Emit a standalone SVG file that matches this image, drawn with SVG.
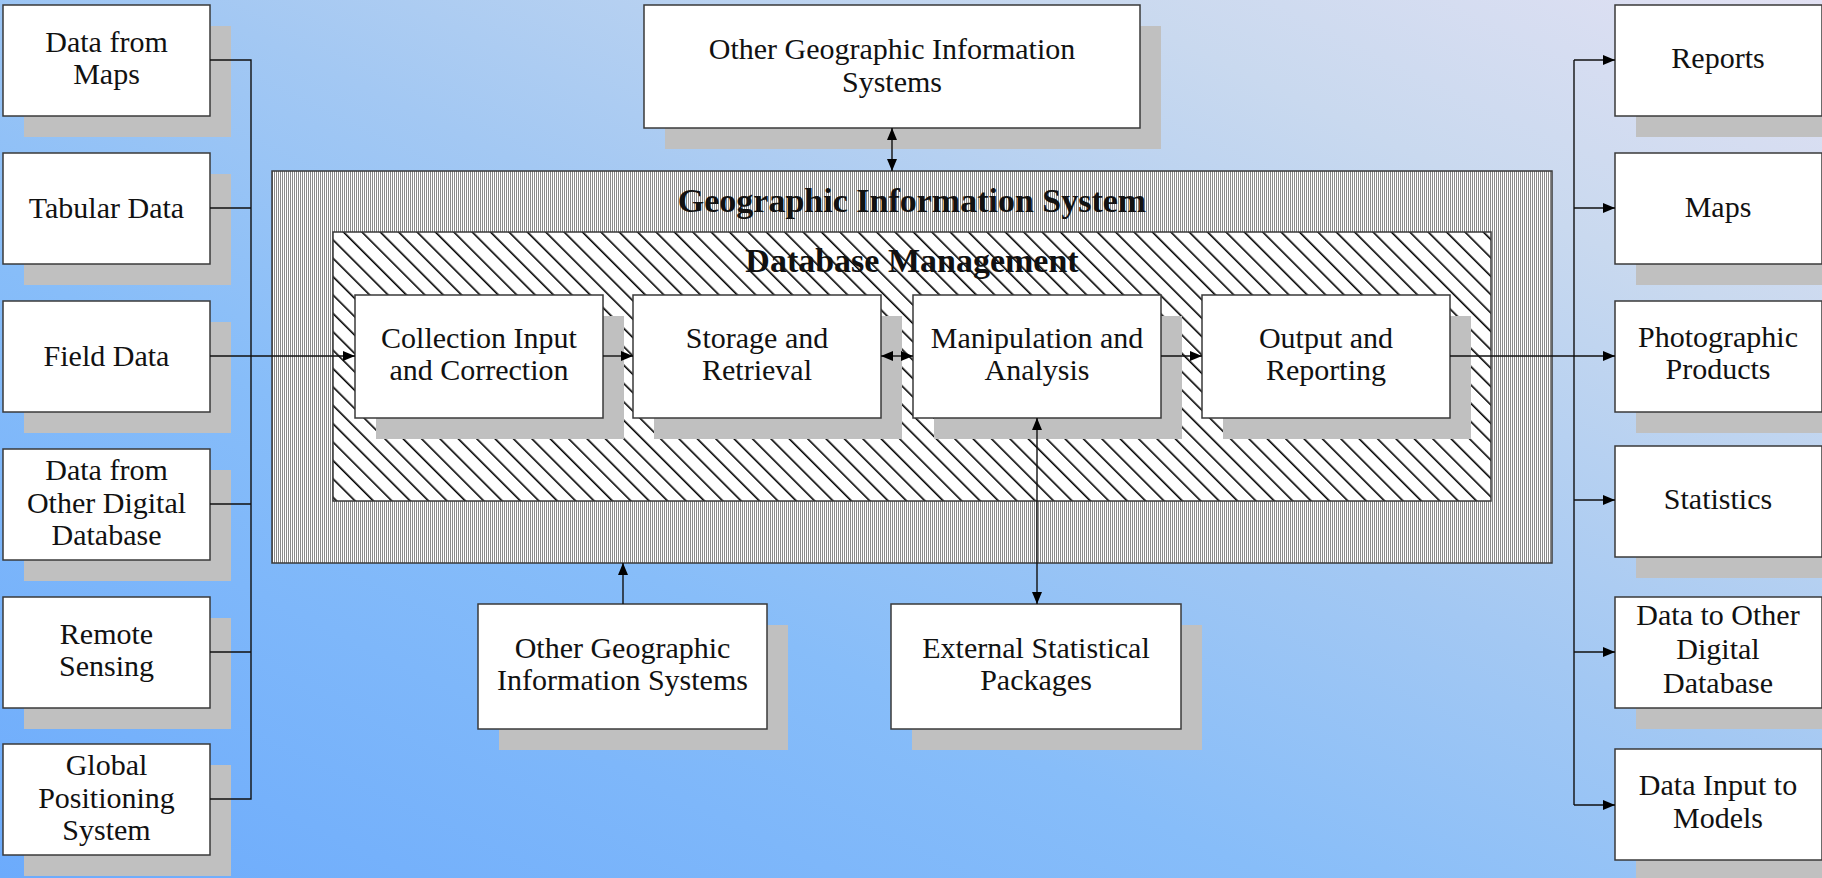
<svg xmlns="http://www.w3.org/2000/svg" width="1822" height="878" viewBox="0 0 1822 878">
<style>
.bx{fill:#ffffff;stroke:#3a3a3a;stroke-width:1.5}
.sh{fill:#c0c0c0}
.t{font-family:"Liberation Serif","Times New Roman",serif;font-size:30px;fill:#111;text-anchor:middle}
.tb{font-family:"Liberation Serif","Times New Roman",serif;font-size:34px;font-weight:bold;fill:#111;text-anchor:middle}
.ln{fill:none;stroke:#111;stroke-width:1.4}
.ar{marker-end:url(#ah)}
.ar2{marker-start:url(#ah);marker-end:url(#ah)}
</style>
<defs>
<linearGradient id="bg" x1="0" y1="1" x2="1" y2="0">
<stop offset="0" stop-color="#6cabfc"/>
<stop offset="0.35" stop-color="#87bdf9"/>
<stop offset="0.55" stop-color="#a3c8f3"/>
<stop offset="0.8" stop-color="#c9d9ef"/>
<stop offset="1" stop-color="#e2e1f3"/>
</linearGradient>
<pattern id="vs" patternUnits="userSpaceOnUse" width="2" height="10">
<rect width="2" height="10" fill="#ffffff"/>
<rect width="1" height="10" fill="#8a8a8a"/>
</pattern>
<pattern id="dg" patternUnits="userSpaceOnUse" width="13" height="10" patternTransform="rotate(-45)">
<rect width="13" height="10" fill="#ffffff"/>
<rect width="1.6" height="10" fill="#000000"/>
</pattern>
<marker id="ah" viewBox="0 0 12 10" refX="12" refY="5" markerWidth="12" markerHeight="10" markerUnits="userSpaceOnUse" orient="auto-start-reverse">
<path d="M0,0 L12,5 L0,10 z" fill="#000"/>
</marker>
</defs>
<rect width="1822" height="878" fill="url(#bg)"/>

<g id="gis">
<rect x="272" y="171" width="1280" height="392" fill="url(#vs)" stroke="#3a3a3a" stroke-width="1.5"/>
<text class="tb" x="912" y="212">Geographic Information System</text>
</g>
<g id="dbm">
<rect x="333" y="232" width="1158" height="269" fill="url(#dg)" stroke="#3a3a3a" stroke-width="1.5"/>
<text class="tb" x="912" y="272">Database Management</text>
</g>

<g id="collection">
<rect class="sh" x="376" y="316" width="248" height="123"/>
<rect class="bx" x="355" y="295" width="248" height="123"/>
<text class="t" x="479" y="348">Collection Input</text>
<text class="t" x="479" y="380">and Correction</text>
</g>
<g id="storage">
<rect class="sh" x="654" y="316" width="248" height="123"/>
<rect class="bx" x="633" y="295" width="248" height="123"/>
<text class="t" x="757" y="348">Storage and</text>
<text class="t" x="757" y="380">Retrieval</text>
</g>
<g id="manipulation">
<rect class="sh" x="934" y="316" width="248" height="123"/>
<rect class="bx" x="913" y="295" width="248" height="123"/>
<text class="t" x="1037" y="348">Manipulation and</text>
<text class="t" x="1037" y="380">Analysis</text>
</g>
<g id="output">
<rect class="sh" x="1223" y="316" width="248" height="123"/>
<rect class="bx" x="1202" y="295" width="248" height="123"/>
<text class="t" x="1326" y="348">Output and</text>
<text class="t" x="1326" y="380">Reporting</text>
</g>

<g id="other-gis-top">
<rect class="sh" x="665" y="26" width="496" height="123"/>
<rect class="bx" x="644" y="5" width="496" height="123"/>
<text class="t" x="892" y="59">Other Geographic Information</text>
<text class="t" x="892" y="92">Systems</text>
</g>
<g id="other-gis-bottom">
<rect class="sh" x="499" y="625" width="289" height="125"/>
<rect class="bx" x="478" y="604" width="289" height="125"/>
<text class="t" x="622.5" y="658">Other Geographic</text>
<text class="t" x="622.5" y="690">Information Systems</text>
</g>
<g id="external">
<rect class="sh" x="912" y="625" width="290" height="125"/>
<rect class="bx" x="891" y="604" width="290" height="125"/>
<text class="t" x="1036" y="658">External Statistical</text>
<text class="t" x="1036" y="690">Packages</text>
</g>

<g id="in-maps">
<rect class="sh" x="24" y="26" width="207" height="111"/>
<rect class="bx" x="3" y="5" width="207" height="111"/>
<text class="t" x="106.5" y="52">Data from</text>
<text class="t" x="106.5" y="84">Maps</text>
</g>
<g id="in-tabular">
<rect class="sh" x="24" y="174" width="207" height="111"/>
<rect class="bx" x="3" y="153" width="207" height="111"/>
<text class="t" x="106.5" y="218">Tabular Data</text>
</g>
<g id="in-field">
<rect class="sh" x="24" y="322" width="207" height="111"/>
<rect class="bx" x="3" y="301" width="207" height="111"/>
<text class="t" x="106.5" y="366">Field Data</text>
</g>
<g id="in-digital">
<rect class="sh" x="24" y="470" width="207" height="111"/>
<rect class="bx" x="3" y="449" width="207" height="111"/>
<text class="t" x="106.5" y="480">Data from</text>
<text class="t" x="106.5" y="512.5">Other Digital</text>
<text class="t" x="106.5" y="545">Database</text>
</g>
<g id="in-remote">
<rect class="sh" x="24" y="618" width="207" height="111"/>
<rect class="bx" x="3" y="597" width="207" height="111"/>
<text class="t" x="106.5" y="644">Remote</text>
<text class="t" x="106.5" y="676">Sensing</text>
</g>
<g id="in-gps">
<rect class="sh" x="24" y="765" width="207" height="111"/>
<rect class="bx" x="3" y="744" width="207" height="111"/>
<text class="t" x="106.5" y="775">Global</text>
<text class="t" x="106.5" y="808">Positioning</text>
<text class="t" x="106.5" y="840">System</text>
</g>

<g id="out-reports">
<rect class="sh" x="1636" y="26" width="207" height="111"/>
<rect class="bx" x="1615" y="5" width="207" height="111"/>
<text class="t" x="1718" y="68">Reports</text>
</g>
<g id="out-maps">
<rect class="sh" x="1636" y="174" width="207" height="111"/>
<rect class="bx" x="1615" y="153" width="207" height="111"/>
<text class="t" x="1718" y="217">Maps</text>
</g>
<g id="out-photo">
<rect class="sh" x="1636" y="322" width="207" height="111"/>
<rect class="bx" x="1615" y="301" width="207" height="111"/>
<text class="t" x="1718" y="347">Photographic</text>
<text class="t" x="1718" y="379">Products</text>
</g>
<g id="out-stats">
<rect class="sh" x="1636" y="467" width="207" height="111"/>
<rect class="bx" x="1615" y="446" width="207" height="111"/>
<text class="t" x="1718" y="509">Statistics</text>
</g>
<g id="out-digital">
<rect class="sh" x="1636" y="618" width="207" height="111"/>
<rect class="bx" x="1615" y="597" width="207" height="111"/>
<text class="t" x="1718" y="625">Data to Other</text>
<text class="t" x="1718" y="659">Digital</text>
<text class="t" x="1718" y="693">Database</text>
</g>
<g id="out-models">
<rect class="sh" x="1636" y="770" width="207" height="111"/>
<rect class="bx" x="1615" y="749" width="207" height="111"/>
<text class="t" x="1718" y="795">Data Input to</text>
<text class="t" x="1718" y="828">Models</text>
</g>

<g id="connectors">
<path class="ln" d="M210,60 H251 V799 H210 M210,208 H251 M210,504 H251 M210,652 H251"/>
<path class="ln ar" d="M210,356 H355"/>
<path class="ln ar" d="M603,356 H633"/>
<path class="ln ar2" d="M881,356 H913"/>
<path class="ln ar" d="M1161,356 H1202"/>
<path class="ln ar" d="M1450,356 H1615"/>
<path class="ln" d="M1574,60 V805"/>
<path class="ln ar" d="M1574,60 H1615"/>
<path class="ln ar" d="M1574,208 H1615"/>
<path class="ln ar" d="M1574,500 H1615"/>
<path class="ln ar" d="M1574,652 H1615"/>
<path class="ln ar" d="M1574,805 H1615"/>
<path class="ln ar2" d="M892,128 V171"/>
<path class="ln ar" d="M623,604 V563"/>
<path class="ln ar2" d="M1037,418 V604"/>
</g>
</svg>
